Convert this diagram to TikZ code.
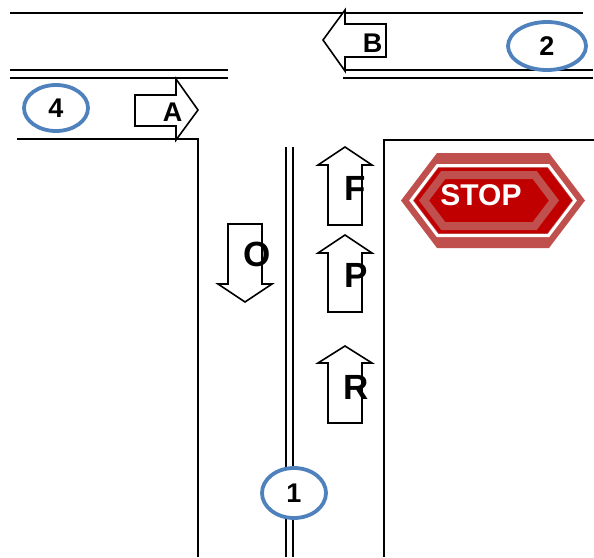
\documentclass[tikz,border=0pt]{standalone}
\usepackage{fontspec}
\setmainfont{Liberation Sans}
\usetikzlibrary{shapes.geometric}
\definecolor{ringblue}{HTML}{4F81BD}
\definecolor{stoplight}{HTML}{C0504D}
\definecolor{stopdark}{HTML}{C00000}
\newcommand{\hexpath}[5]{(#1-#3,#2) -- (#1-#3+#5,#2-#4) -- (#1+#3-#5,#2-#4) -- (#1+#3,#2) -- (#1+#3-#5,#2+#4) -- (#1-#3+#5,#2+#4) -- cycle}
\tikzset{
  road/.style={line width=2.2pt, black},
  arrowshape/.style={draw=black, line width=1.6pt, fill=white, line join=miter},
  lbl/.style={font=\fontsize{27}{27}\bfseries\selectfont, inner sep=0pt},
  biglbl/.style={font=\fontsize{35}{35}\bfseries\selectfont, inner sep=0pt},
  ring/.style={ellipse, draw=ringblue, line width=3.8pt, fill=white, inner sep=0pt, font=\fontsize{27}{27}\bfseries\selectfont},
}
\begin{document}
\begin{tikzpicture}[x=1pt,y=-1pt]
\useasboundingbox (0,0) rectangle (594,557);
% roads
\draw[road] (10,13) -- (583,13);
\draw[road] (10,70) -- (228,70);
\draw[road] (10,78) -- (228,78);
\draw[road] (345,70) -- (593,70);
\draw[road] (343,78) -- (593,78);
\draw[road] (17,139) -- (198,139) -- (198,557);
\draw[road] (594,140) -- (384,140) -- (384,557);
\draw[road] (286,147) -- (286,557);
\draw[road] (293,147) -- (293,557);
% arrows
\draw[arrowshape] (135,95) -- (176,95) -- (176,79) -- (198,110) -- (176,140) -- (176,126) -- (135,126) -- cycle;
\draw[arrowshape] (386,24) -- (345,24) -- (345,10) -- (323,40) -- (345,71) -- (345,57) -- (386,57) -- cycle;
\draw[arrowshape] (328,225) -- (328,165) -- (318,165) -- (345,147) -- (372,165) -- (362,165) -- (362,225) -- cycle;
\draw[arrowshape] (328,312) -- (328,253) -- (318,253) -- (345,235) -- (372,253) -- (362,253) -- (362,312) -- cycle;
\draw[arrowshape] (328,423) -- (328,363) -- (318,363) -- (345,346) -- (372,363) -- (362,363) -- (362,423) -- cycle;
\draw[arrowshape] (228,224) -- (262,224) -- (262,284) -- (272,284) -- (245,302) -- (218,284) -- (228,284) -- cycle;
% labels
\node[lbl] (la) at (172.5,112.5) {A};
\node[lbl] (lb) at (372.5,43) {B};
\node[biglbl] (lf) at (355.5,188) {F};
\node[biglbl] (lp) at (356,275.5) {P};
\node[biglbl] (lr) at (356,387) {R};
\node[biglbl] (lo) at (257.5,254.5) {O};
% numbered rings
\node[ring, minimum width=78pt, minimum height=48pt] (n2) at (547,46) {2};
\node[ring, minimum width=64pt, minimum height=46pt] (n4) at (56,108) {4};
\node[ring, minimum width=64pt, minimum height=50pt] (n1) at (294,493) {1};
% stop sign
\fill[stoplight] \hexpath{493}{200.5}{92}{47.5}{36};
\draw[white, line width=3pt] \hexpath{493}{200.5}{82}{35}{26.5};
\fill[stopdark] \hexpath{493}{200.5}{79}{32.5}{24.6};
\draw[stoplight, line width=8pt] \hexpath{489}{200.5}{65}{25.5}{19.3};
\node[font=\fontsize{30}{30}\bfseries\selectfont, text=white, inner sep=0pt] (stop) at (481,195) {STOP};
\end{tikzpicture}
\end{document}
